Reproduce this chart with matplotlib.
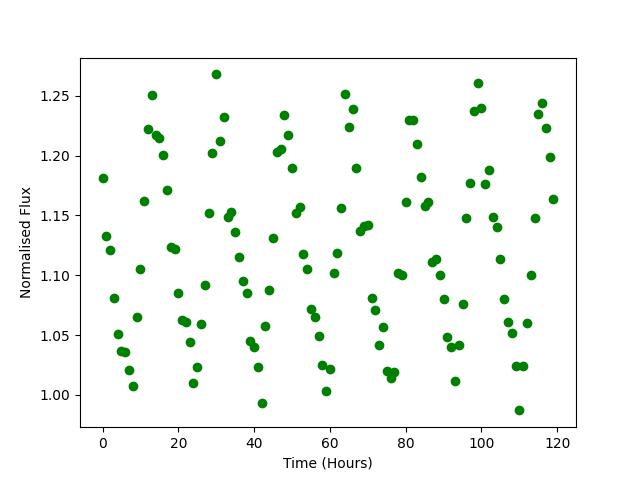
import numpy as np
import matplotlib
matplotlib.use('Agg')
import matplotlib.pyplot as plt

# =============================================================================
# Data
# =============================================================================

tijd_uren = list(range(120))

flux = [
    1.181, 1.133, 1.121, 1.081, 1.051, 1.037, 1.036, 1.021, 1.007, 1.065,
    1.105, 1.162, 1.222, 1.251, 1.217, 1.215, 1.201, 1.171, 1.124, 1.122,
    1.085, 1.063, 1.061, 1.044, 1.010, 1.023, 1.059, 1.092, 1.152, 1.202,
    1.268, 1.212, 1.232, 1.149, 1.153, 1.136, 1.115, 1.095, 1.085, 1.045,
    1.040, 1.023, 0.993, 1.058, 1.088, 1.131, 1.203, 1.206, 1.234, 1.217,
    1.190, 1.152, 1.157, 1.118, 1.105, 1.072, 1.065, 1.049, 1.025, 1.003,
    1.022, 1.102, 1.119, 1.156, 1.252, 1.224, 1.239, 1.190, 1.137, 1.141,
    1.142, 1.081, 1.071, 1.042, 1.057, 1.020, 1.014, 1.019, 1.102, 1.100,
    1.161, 1.230, 1.230, 1.210, 1.182, 1.158, 1.161, 1.111, 1.114, 1.100,
    1.080, 1.048, 1.040, 1.012, 1.042, 1.076, 1.148, 1.177, 1.237, 1.261,
    1.240, 1.176, 1.188, 1.149, 1.140, 1.114, 1.080, 1.061, 1.052, 1.024,
    0.987, 1.024, 1.060, 1.100, 1.148, 1.235, 1.244, 1.223, 1.199, 1.164,
]

# =============================================================================
# Grafiek
# =============================================================================

fig, ax = plt.subplots(figsize=(6.4, 4.8), dpi=100)
ax.plot(tijd_uren, flux, 'go')
ax.set_xlabel("Time (Hours)")
ax.set_ylabel("Normalised Flux")

plt.savefig('out.png', dpi=100)
plt.close()
